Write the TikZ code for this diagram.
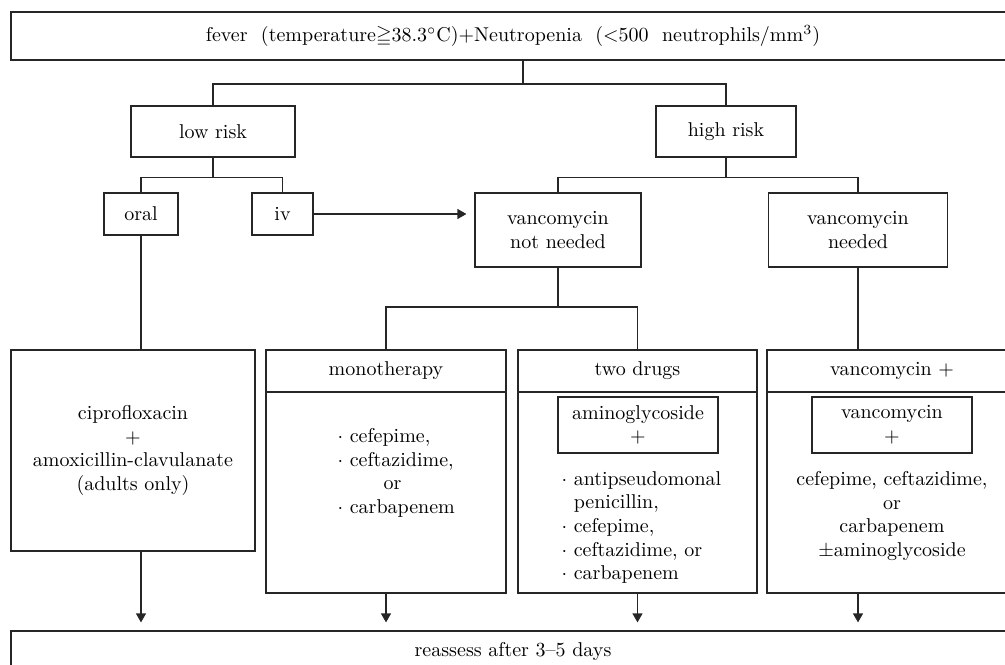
\documentclass[tikz,border=0pt]{standalone}
\usepackage{amsmath, amssymb}
\usepackage{tikz}
\usetikzlibrary{arrows.meta,positioning,calc}

\tikzset{
    box/.style={draw=black!85, line width=0.6pt, inner sep=0pt, align=center},
    arr/.style={-{Triangle[width=5pt,length=4.5pt]}, shorten >=4pt},
    list/.style={inner sep=0pt, align=left}
}

\begin{document}
\begin{tikzpicture}[x=0.5pt, y=-0.5pt, line width=0.6pt, draw=black!85, font=\fontsize{10}{11.8}\selectfont]
    \useasboundingbox (0,0) rectangle (1005,664);

    \node[box, minimum width=502pt, minimum height=24pt] (fever) at (513,36)
        {fever~~(temperature$\geqq$38.3$^\circ$C)+Neutropenia~~($<$500~~neutrophils/mm$^3$)};
    \node[box, minimum width=82pt, minimum height=25.5pt] (low) at (213,131.5) {low risk};
    \node[box, minimum width=70pt, minimum height=25.5pt] (high) at (726,131.5) {high risk};
    \node[box, minimum width=37pt, minimum height=21pt] (oral) at (141,214) {oral};
    \node[box, minimum width=30.5pt, minimum height=21pt] (iv) at (282.5,214) {iv};
    \node[box, minimum width=83pt, minimum height=37pt] (vnn) at (558,230) {vancomycin\\not needed};
    \node[box, minimum width=89.5pt, minimum height=37pt] (vn) at (858,230) {vancomycin\\needed};

    \node[box, minimum width=122pt, minimum height=100.5pt] (cipro) at (133,450.5)
        {ciprofloxacin\\+\\amoxicillin-clavulanate\\(adults only)};

    \node[box, minimum width=120pt, minimum height=21pt] (monohd) at (386,371) {monotherapy};
    \node[box, minimum width=120pt, minimum height=100.5pt] (mono) at (386,492.5) {};
    \node[list, anchor=west] (monolist) at (337,473)
        {$\cdot$ cefepime,\\$\cdot$ ceftazidime,\\\hspace{23pt}or\\$\cdot$ carbapenem};

    \node[box, minimum width=119.5pt, minimum height=21pt] (twohd) at (637.5,371) {two drugs};
    \node[box, minimum width=119.5pt, minimum height=100.5pt] (two) at (637.5,492.5) {};
    \node[box, minimum width=80pt, minimum height=28pt] (amino) at (638,425) {aminoglycoside\\+};
    \node[list, anchor=west] (twolist) at (561,527.5)
        {$\cdot$ antipseudomonal\\\phantom{$\cdot$ }penicillin,\\$\cdot$ cefepime,\\$\cdot$ ceftazidime, or\\$\cdot$ carbapenem};

    \node[box, minimum width=125pt, minimum height=21pt] (vplushd) at (892,371) {vancomycin +};
    \node[box, minimum width=125pt, minimum height=100.5pt] (vplus) at (892,492.5) {};
    \node[box, minimum width=80pt, minimum height=28pt] (vanc) at (892,425) {vancomycin\\+};
    \node[list, align=center] (vpluslist) at (892,516)
        {cefepime, ceftazidime,\\or\\carbapenem\\$\pm$aminoglycoside};

    \node[box, minimum width=502pt, minimum height=20.5pt] (reassess) at (513,651.5) {reassess after 3--5 days};

    \coordinate (jt) at (523,84);
    \coordinate (jl) at (213,177.5);
    \coordinate (jh) at (726,177.5);
    \coordinate (jv) at (558,307);

    \draw (fever.south -| jt) -- (jt);
    \draw (low.north) |- (jt) -| (high.north);
    \draw (low.south) -- (jl);
    \draw (oral.north) |- (jl) -| (iv.north);
    \draw (high.south) -- (jh);
    \draw (vnn.north) |- (jh) -| (vn.north);
    \draw[arr] (iv.east) -- (iv.east -| vnn.west);
    \draw (oral.south) -- (oral.south |- cipro.north);
    \draw (vnn.south) -- (jv);
    \draw (monohd.north) |- (jv) -| (twohd.north);
    \draw (vn.south) -- (vn.south |- vplushd.north);

    \draw[arr] (oral.south |- cipro.south) -- (oral.south |- reassess.north);
    \draw[arr] (mono.south) -- (mono.south |- reassess.north);
    \draw[arr] (two.south) -- (two.south |- reassess.north);
    \draw[arr] (vn.south |- vplus.south) -- (vn.south |- reassess.north);
\end{tikzpicture}
\end{document}
